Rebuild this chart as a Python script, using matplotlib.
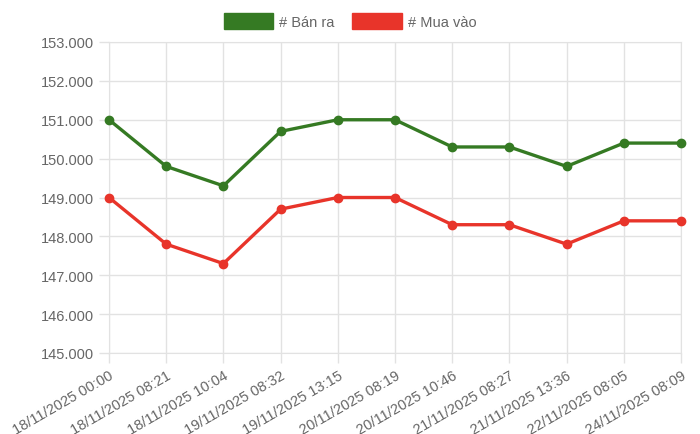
import matplotlib.pyplot as plt
from matplotlib.patches import Patch
from matplotlib.ticker import FuncFormatter

plt.rcParams['font.family'] = ['Liberation Sans', 'DejaVu Sans']

# labels and prices
labels = ['18/11/2025 00:00', '18/11/2025 08:21', '18/11/2025 10:04',
          '19/11/2025 08:32', '19/11/2025 13:15', '20/11/2025 08:19',
          '20/11/2025 10:46', '21/11/2025 08:27', '21/11/2025 13:36',
          '22/11/2025 08:05', '24/11/2025 08:09']
ban_ra = [151000, 149800, 149300, 150700, 151000, 151000,
          150300, 150300, 149800, 150400, 150400]
mua_vao = [149000, 147800, 147300, 148700, 149000, 149000,
           148300, 148300, 147800, 148400, 148400]

green = '#357a23'
red = '#e8342a'
grid_c = '#e2e2e2'
text_c = '#666666'

fig = plt.figure(figsize=(7, 4.35), dpi=100)
ax = fig.add_axes([109 / 700, 81 / 435, 572 / 700, 311 / 435])

x = list(range(len(labels)))
ax.plot(x, ban_ra, color=green, lw=2.4, marker='o', ms=6, zorder=3, clip_on=False)
ax.plot(x, mua_vao, color=red, lw=2.4, marker='o', ms=6, zorder=3, clip_on=False)

ax.set_xlim(0, len(labels) - 1)
ax.set_ylim(145000, 153000)
ax.set_yticks(range(145000, 153001, 1000))
ax.yaxis.set_major_formatter(FuncFormatter(lambda v, p: f'{int(v):,}'.replace(',', '.')))
ax.set_xticks(x)
ax.set_xticklabels(labels, rotation=30, ha='right', rotation_mode='anchor')

ax.grid(True, color=grid_c, lw=1)
ax.set_axisbelow(True)
for s in ax.spines.values():
    s.set_color(grid_c)
ax.tick_params(colors=grid_c, labelcolor=text_c, labelsize=10.5, length=7, width=1)
ax.tick_params(axis='x', pad=4)

handles = [Patch(facecolor=green, edgecolor=green, label='# Bán ra'),
           Patch(facecolor=red, edgecolor=red, label='# Mua vào')]
leg = fig.legend(handles=handles, loc='center', bbox_to_anchor=(0.5, 1 - 22 / 435),
                 ncol=2, frameon=False, fontsize=10.5, handlelength=3.4, handleheight=1.25,
                 handletextpad=0.4, columnspacing=1.2)
for t in leg.get_texts():
    t.set_color(text_c)

plt.savefig('out.png', dpi=100)
